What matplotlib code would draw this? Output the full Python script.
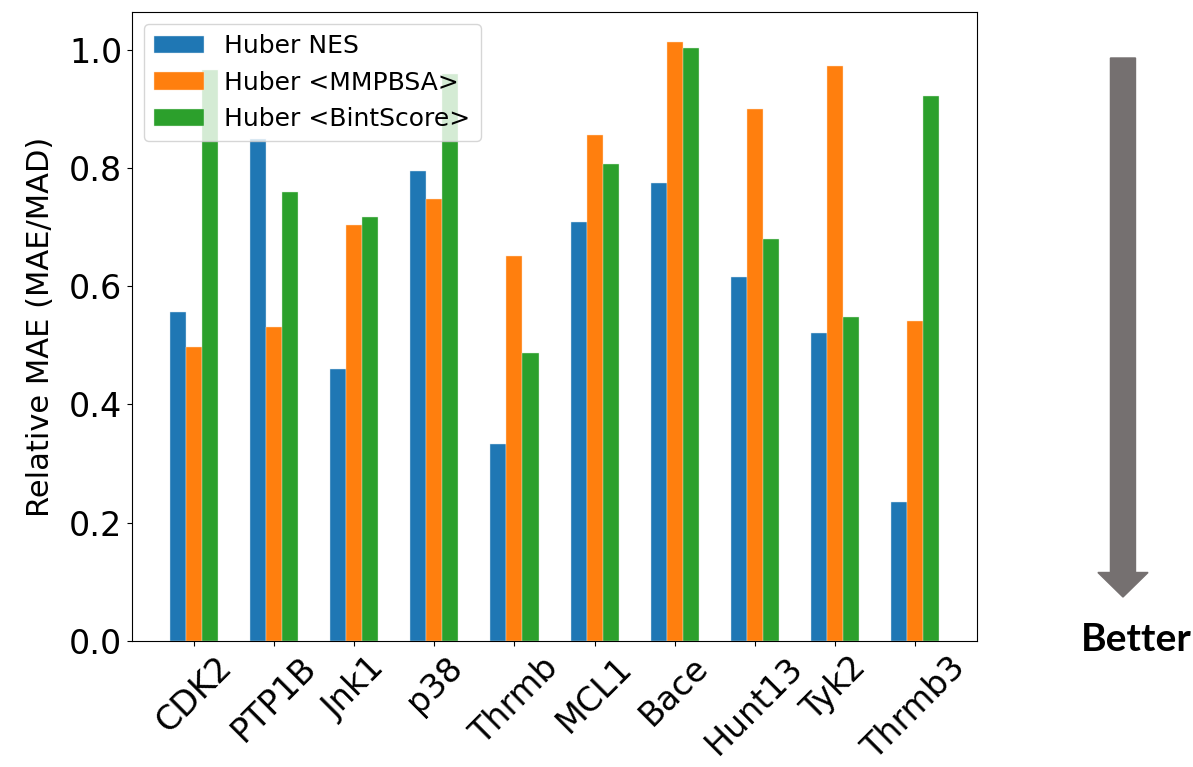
import numpy as np
import matplotlib
matplotlib.use("Agg")
import matplotlib.pyplot as plt
from matplotlib.patches import FancyArrow

systems = ["CDK2", "PTP1B", "Jnk1", "p38", "Thrmb", "MCL1", "Bace", "Hunt13", "Tyk2", "Thrmb3"]
huber_nes = [0.557, 0.848, 0.460, 0.794, 0.333, 0.709, 0.775, 0.616, 0.521, 0.235]
huber_mmpbsa = [0.497, 0.531, 0.704, 0.748, 0.651, 0.855, 1.013, 0.900, 0.973, 0.541]
huber_bint = [0.966, 0.760, 0.717, 0.959, 0.487, 0.807, 1.003, 0.679, 0.548, 0.922]

fig = plt.figure(figsize=(11.93, 7.67), dpi=100)
ax = fig.add_axes([0.1106, 0.1643, 0.7084, 0.8201])

x = np.arange(len(systems))
w = 0.2
ax.bar(x - w, huber_nes, w, color="#1f77b4", edgecolor="#d8e6f0", linewidth=0.3, label="Huber NES")
ax.bar(x, huber_mmpbsa, w, color="#ff7f0e", edgecolor="#ffe0c4", linewidth=0.3, label="Huber <MMPBSA>")
ax.bar(x + w, huber_bint, w, color="#2ca02c", edgecolor="#d4ecd4", linewidth=0.3, label="Huber <BintScore>")

ax.set_xticks(x)
ax.set_xticklabels(systems, rotation=45, fontsize=24)
ax.tick_params(axis="y", labelsize=24)
ax.set_yticks([0.0, 0.2, 0.4, 0.6, 0.8, 1.0])
ax.set_ylabel("Relative MAE (MAE/MAD)", fontsize=22, labelpad=10)
ax.legend(loc="upper left", fontsize=18)

# arrow + label on the right
arr = FancyArrow(0.9413, 0.9244, 0, -0.7028, width=0.021, head_width=0.042,
                 head_length=0.032, length_includes_head=True,
                 color="#757070", transform=fig.transFigure)
fig.patches.append(arr)
fig.text(0.9525, 0.1656, "Better", fontsize=28, fontweight="bold",
         family="Lato", ha="center", va="center")

plt.savefig("out.png", dpi=100)
